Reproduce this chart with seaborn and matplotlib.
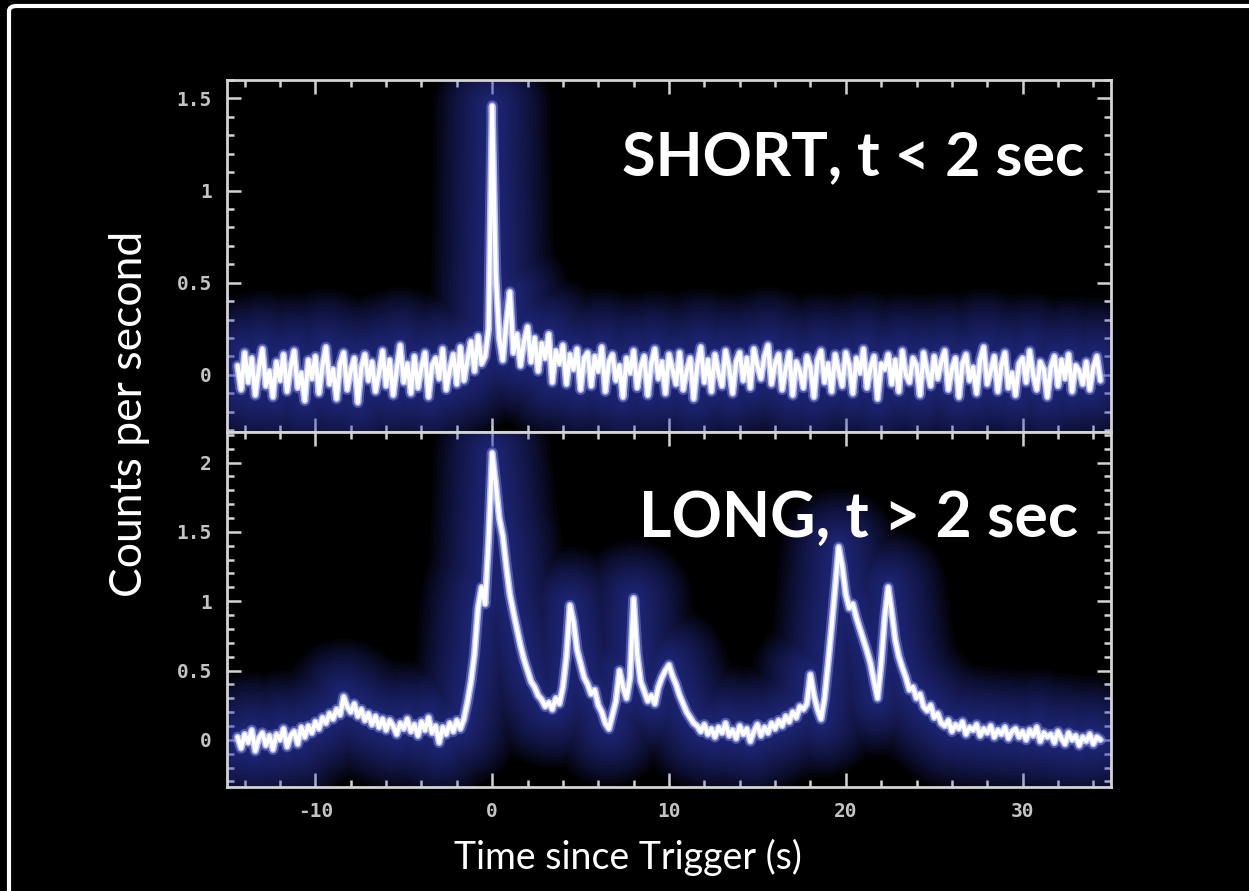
import numpy as np
import pandas as pd
import matplotlib
matplotlib.use("Agg")
import matplotlib.pyplot as plt
from matplotlib.ticker import MultipleLocator, FuncFormatter
from matplotlib.patches import FancyBboxPatch
import seaborn as sns

# ---- light-curve data: counts per second in 0.2 s bins starting at -14.4 s ----
bin_start = -14.4
bin_width = 0.2

short_rate = [
    0.05, -0.08, 0.12, -0.04, 0.09, -0.11, 0.03, 0.14, -0.06, 0.02,
    -0.12, 0.07, -0.03, 0.11, -0.09, 0.04, 0.13, -0.07, 0.01, -0.14,
    0.08, -0.02, 0.10, -0.10, 0.05, 0.15, -0.05, 0.03, -0.13, 0.06,
    0.12, -0.08, 0.02, 0.09, -0.15, 0.04, 0.11, -0.03, 0.07, -0.09,
    0.01, 0.13, -0.06, 0.08, -0.11, 0.03, 0.16, -0.04, 0.06, -0.10,
    0.10, -0.07, 0.04, 0.12, -0.12, 0.05, 0.09, -0.02, 0.14, -0.08,
    0.03, 0.11, -0.05, 0.15, -0.03, 0.08, 0.18, 0.02, 0.21, 0.06,
    0.10, 0.25, 1.46, 0.55, 0.20, 0.08, 0.28, 0.45, 0.12, 0.22,
    0.05, 0.18, 0.26, 0.07, 0.20, 0.02, 0.17, 0.09, 0.22, -0.04,
    0.13, 0.06, 0.16, -0.05, 0.11, 0.03, 0.14, -0.08, 0.09, 0.12,
    -0.06, 0.10, 0.02, 0.15, -0.09, 0.07, 0.11, -0.03, 0.05, -0.12,
    0.09, 0.01, 0.13, -0.07, 0.04, 0.10, -0.11, 0.06, 0.14, -0.02,
    0.07, -0.10, 0.11, 0.03, -0.05, 0.12, -0.08, 0.02, 0.09, -0.13,
    0.05, 0.15, -0.04, 0.08, -0.09, 0.11, 0.01, -0.06, 0.13, 0.04,
    -0.10, 0.07, 0.12, -0.03, 0.09, -0.07, 0.14, 0.05, -0.02, 0.10,
    0.16, -0.05, 0.06, 0.11, -0.08, 0.03, 0.12, -0.11, 0.07, 0.02,
    -0.07, 0.10, 0.04, -0.12, 0.08, 0.13, -0.04, 0.06, -0.09, 0.11,
    0.02, -0.06, 0.12, 0.05, -0.10, 0.09, 0.01, 0.14, -0.07, 0.04,
    0.10, -0.13, 0.06, 0.03, 0.11, -0.05, 0.08, -0.09, 0.13, 0.00,
    -0.04, 0.09, 0.05, -0.11, 0.12, 0.02, -0.06, 0.10, -0.02, 0.07,
    0.13, -0.08, 0.03, 0.09, -0.12, 0.06, 0.11, -0.03, 0.04, -0.10,
    0.08, 0.15, -0.05, 0.02, 0.10, -0.09, 0.05, 0.12, -0.07, 0.01,
    -0.11, 0.06, 0.09, -0.04, 0.13, 0.00, -0.08, 0.07, 0.03, -0.12,
    0.04, 0.10, -0.06, 0.08, -0.02, 0.11, -0.09, 0.05, 0.02, -0.05,
    0.07, -0.08, 0.04, 0.10, -0.03,
]

long_rate = [
    0.02, -0.06, 0.04, -0.02, 0.07, -0.08, 0.01, 0.05, -0.04, 0.03,
    -0.07, 0.04, 0.00, 0.08, -0.05, 0.03, 0.06, -0.03, 0.09, 0.02,
    0.10, 0.05, 0.13, 0.08, 0.16, 0.12, 0.19, 0.15, 0.22, 0.18,
    0.31, 0.24, 0.20, 0.26, 0.17, 0.22, 0.14, 0.19, 0.11, 0.17,
    0.09, 0.15, 0.07, 0.14, 0.10, 0.04, 0.12, 0.08, 0.15, 0.06,
    0.11, 0.03, 0.13, 0.07, 0.16, 0.05, 0.10, -0.02, 0.09, 0.04,
    0.12, 0.06, 0.14, 0.08, 0.15, 0.27, 0.42, 0.62, 0.95, 1.10,
    0.98, 1.45, 2.07, 1.85, 1.60, 1.47, 1.25, 1.05, 0.92, 0.80,
    0.68, 0.58, 0.50, 0.42, 0.38, 0.32, 0.29, 0.24, 0.27, 0.22,
    0.30, 0.26, 0.38, 0.60, 0.97, 0.85, 0.65, 0.55, 0.45, 0.40,
    0.33, 0.36, 0.25, 0.20, 0.12, 0.08, 0.18, 0.28, 0.50, 0.38,
    0.30, 0.45, 1.02, 0.62, 0.42, 0.35, 0.28, 0.32, 0.26, 0.38,
    0.45, 0.50, 0.54, 0.46, 0.40, 0.32, 0.26, 0.20, 0.16, 0.12,
    0.10, 0.06, 0.11, 0.04, 0.08, 0.02, 0.09, 0.05, 0.12, 0.03,
    0.07, 0.01, 0.10, 0.04, 0.08, -0.01, 0.06, 0.11, 0.03, 0.09,
    0.05, 0.12, 0.08, 0.14, 0.10, 0.17, 0.13, 0.20, 0.16, 0.24,
    0.22, 0.26, 0.47, 0.32, 0.22, 0.15, 0.30, 0.55, 0.82, 1.10,
    1.39, 1.25, 1.05, 0.95, 0.98, 0.88, 0.80, 0.72, 0.64, 0.55,
    0.42, 0.30, 0.55, 0.88, 1.10, 0.92, 0.72, 0.60, 0.52, 0.45,
    0.36, 0.38, 0.30, 0.33, 0.24, 0.21, 0.25, 0.16, 0.19, 0.12,
    0.10, 0.14, 0.06, 0.11, 0.08, 0.13, 0.04, 0.09, 0.07, 0.11,
    0.03, 0.08, 0.05, 0.10, 0.02, 0.07, 0.04, 0.09, 0.01, 0.06,
    0.08, 0.02, 0.06, 0.00, 0.07, 0.03, 0.09, -0.01, 0.05, 0.02,
    0.04, -0.02, 0.06, 0.01, -0.03, 0.05, 0.00, 0.03, -0.04, 0.02,
    -0.01, 0.04, -0.03, 0.02, 0.00,
]

short_label = "SHORT, t < 2 sec"
long_label = "LONG, t > 2 sec"
x_label = "Time since Trigger (s)"
y_label = "Counts per second"

x_ticks = [-10, 0, 10, 20, 30]
short_yticks = [0, 0.5, 1, 1.5]
long_yticks = [0, 0.5, 1, 1.5, 2]

# ---- style ----
sns.set_style("dark", {"axes.facecolor": "black", "figure.facecolor": "black"})
plt.rcParams["font.family"] = ["Lato", "DejaVu Sans"]

W, H, DPI = 1249, 891, 100
fig = plt.figure(figsize=(W / DPI, H / DPI), dpi=DPI, facecolor="black")

ax_top = fig.add_axes([227 / W, 1 - 432 / H, 884 / W, 352 / H])
ax_bot = fig.add_axes([227 / W, 1 - 787 / H, 884 / W, 355 / H], sharex=ax_top)

glow_color = "#3844c4"
glow_widths = np.linspace(84, 6, 16)
spine_color = "#d4d4d4"
tick_label_color = "#c4c4c4"


def draw_curve(ax, rate):
    time = bin_start + bin_width * np.arange(len(rate))
    df = pd.DataFrame({"time": time, "rate": rate})
    # soft blue halo built from stacked translucent strokes
    for lw in glow_widths:
        sns.lineplot(data=df, x="time", y="rate", ax=ax, color=glow_color,
                     linewidth=lw, alpha=0.06, estimator=None, sort=False,
                     solid_joinstyle="round", solid_capstyle="round")
    sns.lineplot(data=df, x="time", y="rate", ax=ax, color="#8a94ea",
                 linewidth=8, alpha=0.45, estimator=None, sort=False,
                 solid_joinstyle="round")
    sns.lineplot(data=df, x="time", y="rate", ax=ax, color="#b6bdf6",
                 linewidth=5.0, estimator=None, sort=False,
                 solid_joinstyle="round")
    sns.lineplot(data=df, x="time", y="rate", ax=ax, color="white",
                 linewidth=2.9, estimator=None, sort=False,
                 solid_joinstyle="round")


draw_curve(ax_top, short_rate)
draw_curve(ax_bot, long_rate)

fmt = FuncFormatter(lambda v, _: f"{v:g}")
for ax, yt, ylim in ((ax_top, short_yticks, (-0.31, 1.60)),
                     (ax_bot, long_yticks, (-0.34, 2.22))):
    ax.set_facecolor("black")
    ax.set_xlim(-15, 35)
    ax.set_ylim(*ylim)
    ax.set_xticks(x_ticks)
    ax.set_yticks(yt)
    ax.xaxis.set_minor_locator(MultipleLocator(2))
    ax.yaxis.set_minor_locator(MultipleLocator(0.1))
    ax.yaxis.set_major_formatter(fmt)
    ax.xaxis.set_major_formatter(fmt)
    ax.set_xlabel("")
    ax.set_ylabel("")
    ax.grid(False)
    for s in ax.spines.values():
        s.set_visible(True)
        s.set_color(spine_color)
        s.set_linewidth(2.0)
    ax.tick_params(which="both", direction="in", top=True, right=True,
                   bottom=True, left=True, color=spine_color, width=1.8)
    ax.tick_params(which="major", length=10)
    ax.tick_params(which="minor", length=5)
    ax.tick_params(which="major", labelcolor=tick_label_color, labelsize=14,
                   pad=11)
    for lab in ax.get_xticklabels() + ax.get_yticklabels():
        lab.set_family("DejaVu Sans Mono")
        lab.set_fontweight("bold")

ax_top.tick_params(labelbottom=False)

# panel captions and axis titles
fig.text(1085 / W, 1 - 175 / H, short_label, color="white", fontsize=44,
         fontweight="bold", ha="right", va="baseline")
fig.text(1078 / W, 1 - 537 / H, long_label, color="white", fontsize=45,
         fontweight="bold", ha="right", va="baseline")
fig.text(130 / W, 1 - 414 / H, y_label, color="white", fontsize=32,
         rotation=90, ha="center", va="center")
fig.text(628 / W, 1 - 857 / H, x_label, color="white", fontsize=27,
         ha="center", va="center")

# slide frame
frame = FancyBboxPatch((9 / W, -0.05), 1.2, 1 - 6 / H + 0.05,
                       boxstyle="round,pad=0,rounding_size=0.006",
                       transform=fig.transFigure, facecolor="none",
                       edgecolor="white", linewidth=3.0, zorder=10)
fig.patches.append(frame)

fig.savefig("out.png", dpi=DPI, facecolor="black")
